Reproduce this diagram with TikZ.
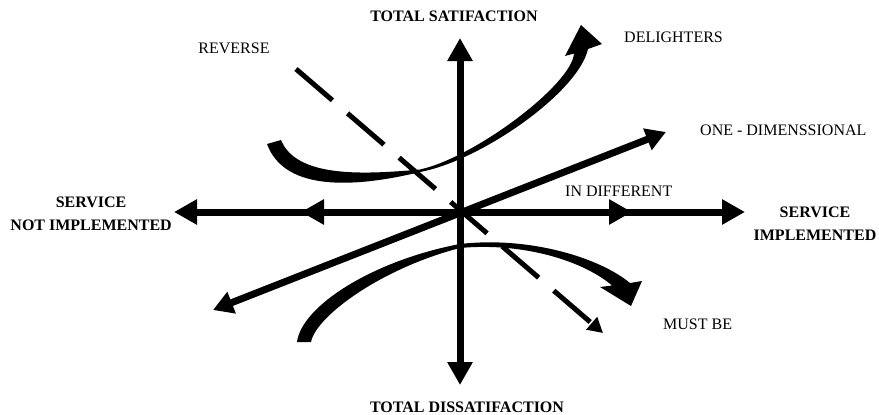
\documentclass[tikz,border=0pt]{standalone}
\usepackage{fontspec}
\setmainfont{Liberation Serif}
\usetikzlibrary{arrows.meta}
\begin{document}
\begin{tikzpicture}[x=1pt,y=-1pt,
  lbl/.style={inner sep=0pt, font=\fontsize{16}{23}\selectfont},
  blbl/.style={inner sep=0pt, font=\fontsize{16}{23}\selectfont\bfseries},
  axis/.style={line width=7pt, -{Triangle[length=23pt,width=24pt]}},
  axisboth/.style={line width=7pt, {Triangle[length=23pt,width=24pt]}-{Triangle[length=23pt,width=24pt]}},
  onedim/.style={line width=7pt, {Triangle[length=20pt,width=22pt]}-{Triangle[length=20pt,width=22pt]}},
  revline/.style={line width=5pt, dash pattern=on 48pt off 20pt, -{Triangle[length=15pt,width=16pt]}},
  brush/.style={fill=black}
]
\useasboundingbox (0,0) rectangle (879,415);
% key points
\coordinate (O) at (460,212);
\coordinate (Lend) at (174,212);
\coordinate (Rend) at (745,212);
\coordinate (Lmid) at (301,212);
\coordinate (Rmid) at (632,212);
\coordinate (Top) at (460,38);
\coordinate (Bot) at (460,385);
\coordinate (D1) at (213,310);
\coordinate (D2) at (666,132);
\coordinate (Rv1) at (296,69);
\coordinate (Rv2) at (603,333);
% axes
\draw[axis] (O) -- (Lend);
\draw[axis] (O) -- (Rend);
\draw[axis] (O) -- (Lmid);
\draw[axis] (O) -- (Rmid);
\draw[axisboth] (Bot) -- (Top);
% one-dimensional
\draw[onedim] (D1) -- (D2);
% reverse
\draw[revline] (Rv1) -- (Rv2);
% delighters
\fill[brush] (267,144) .. controls (285,193) and (358,187) .. (420,172)
  .. controls (480,161) and (578,93) .. (588,49)
  -- (602,44) -- (581,25) -- (565,56) -- (574,53.5)
  .. controls (572,84) and (476,157) .. (420,169.5)
  .. controls (360,175) and (296,177) .. (281,140) -- cycle;
% must be
\fill[brush] (297,342) .. controls (302,305) and (375,260) .. (460,244)
  .. controls (530,236) and (600,258) .. (630,283)
  -- (642,281) -- (631,306) -- (600,287) -- (612,285.5)
  .. controls (585,262) and (525,242) .. (460,248)
  .. controls (382,268) and (316,316) .. (311,342) -- cycle;
% labels
\node[blbl] (tsat) at (454,16) {TOTAL SATIFACTION};
\node[blbl] (tdis) at (467,407) {TOTAL DISSATIFACTION};
\node[lbl] (rev) at (234,48) {REVERSE};
\node[lbl, anchor=west] (del) at (624,37) {DELIGHTERS};
\node[lbl, anchor=west] (one) at (700,130) {ONE - DIMENSSIONAL};
\node[lbl, anchor=west] (ind) at (565,191) {IN DIFFERENT};
\node[lbl, anchor=west] (must) at (663,324) {MUST BE};
\node[blbl, align=center] (sR) at (815,223.5) {SERVICE\\IMPLEMENTED};
\node[blbl, align=center, anchor=east] (sL) at (172,213.5) {SERVICE\\NOT IMPLEMENTED};
\end{tikzpicture}
\end{document}
